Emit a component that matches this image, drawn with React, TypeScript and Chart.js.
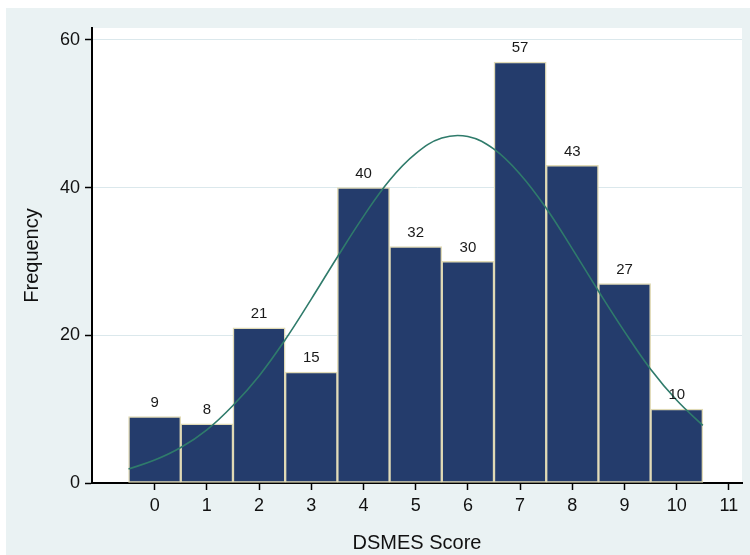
import React, { useEffect, useRef } from "react";
import { Chart, registerables } from "chart.js";

Chart.register(...registerables);

const binCenters = [0, 1, 2, 3, 4, 5, 6, 7, 8, 9, 10];
const frequencies = [9, 8, 21, 15, 40, 32, 30, 57, 43, 27, 10];
const xTickValues = [0, 1, 2, 3, 4, 5, 6, 7, 8, 9, 10, 11];
const yTickValues = [0, 20, 40, 60];
const curveX = [-0.5, 0, 0.5, 1, 1.5, 2, 2.5, 3, 3.5, 4, 4.5, 5, 5.5, 6, 6.5, 7, 7.5, 8, 8.5, 9, 9.5, 10, 10.5];
const curveY = [1.9, 3.1, 4.8, 7.2, 10.5, 14.5, 19.4, 24.9, 30.6, 36.1, 41.0, 44.6, 46.7, 46.9, 45.2, 41.8, 37.2, 31.7, 26.0, 20.5, 15.4, 11.2, 7.8];
const xTitle = "DSMES Score";
const yTitle = "Frequency";

const FONT = "'Liberation Sans', Arial, Helvetica, sans-serif";

const plotBgPlugin = {
  id: "plotBg",
  beforeDraw(chart: any) {
    const { ctx, chartArea } = chart;
    ctx.save();
    ctx.fillStyle = "#ffffff";
    ctx.fillRect(chartArea.left, chartArea.top, chartArea.right - chartArea.left, chartArea.bottom - chartArea.top);
    ctx.restore();
  },
};

const barLabelPlugin = {
  id: "barLabels",
  afterDatasetsDraw(chart: any) {
    const { ctx } = chart;
    chart.data.datasets.forEach((ds: any, i: number) => {
      if (ds.type !== "bar") return;
      const meta = chart.getDatasetMeta(i);
      ctx.save();
      ctx.font = `15px ${FONT}`;
      ctx.fillStyle = "#1a1a1a";
      ctx.textAlign = "center";
      ctx.textBaseline = "middle";
      meta.data.forEach((el: any, j: number) => {
        ctx.fillText(String(frequencies[j]), el.x, el.y - 14);
      });
      ctx.restore();
    });
  },
};

export default function App() {
  const canvasRef = useRef<HTMLCanvasElement | null>(null);

  useEffect(() => {
    if (!canvasRef.current) return;
    const chart = new Chart(canvasRef.current, {
      type: "bar",
      data: {
        datasets: [
          {
            type: "line",
            data: curveX.map((x, i) => ({ x, y: curveY[i] })),
            borderColor: "#2f7b6b",
            borderWidth: 1.6,
            pointRadius: 0,
            tension: 0.4,
            fill: false,
            order: 0,
          } as any,
          {
            type: "bar",
            data: binCenters.map((x, i) => ({ x, y: frequencies[i] })),
            backgroundColor: "#243c6c",
            borderColor: "#e0dab6",
            borderWidth: 1.5,
            borderSkipped: false,
            barPercentage: 1,
            categoryPercentage: 1,
            grouped: false,
            order: 1,
          } as any,
        ],
      },
      options: {
        responsive: false,
        animation: false,
        devicePixelRatio: 1,
        layout: { padding: { top: 20, right: 8, left: 0, bottom: 0 } },
        plugins: {
          legend: { display: false },
          tooltip: { enabled: false },
        },
        scales: {
          x: {
            type: "linear",
            min: -1.2,
            max: 11.25,
            offset: false,
            afterFit: (s: any) => {
              s.height = 72;
            },
            afterBuildTicks: (s: any) => {
              s.ticks = xTickValues.map((v) => ({ value: v }));
            },
            grid: {
              offset: false,
              drawOnChartArea: false,
              drawTicks: true,
              tickLength: 7,
              tickColor: "#000",
              tickWidth: 1.5,
            },
            border: { display: true, color: "#000", width: 2 },
            ticks: {
              autoSkip: false,
              maxRotation: 0,
              padding: 5,
              color: "#111",
              font: { family: FONT, size: 18 },
            },
            title: {
              display: true,
              text: xTitle,
              color: "#111",
              font: { family: FONT, size: 20 },
              padding: { top: 0, bottom: 0 },
            },
          },
          y: {
            type: "linear",
            min: 0,
            max: 61.6,
            afterFit: (s: any) => {
              s.width = 86;
            },
            afterBuildTicks: (s: any) => {
              s.ticks = yTickValues.map((v) => ({ value: v }));
            },
            grid: {
              color: (c: any) => (c.tick && c.tick.value === 0 ? "rgba(0,0,0,0)" : "#dbe8ec"),
              lineWidth: 1,
              drawTicks: true,
              tickLength: 7,
              tickColor: "#000",
              tickWidth: 1.5,
            },
            border: { display: true, color: "#000", width: 2 },
            ticks: {
              padding: 5,
              color: "#111",
              font: { family: FONT, size: 18 },
            },
            title: {
              display: true,
              text: yTitle,
              color: "#111",
              font: { family: FONT, size: 20 },
              padding: { top: 14, bottom: 0 },
            },
          },
        },
      },
      plugins: [plotBgPlugin, barLabelPlugin],
    } as any);
    return () => chart.destroy();
  }, []);

  return (
    <div style={{ position: "absolute", left: 0, top: 0, width: 750, height: 555, background: "#ffffff" }}>
      <div style={{ position: "absolute", left: 6, top: 8, width: 744, height: 547, background: "#eaf2f3" }}>
        <canvas ref={canvasRef} width={744} height={547} style={{ display: "block" }} />
      </div>
    </div>
  );
}
